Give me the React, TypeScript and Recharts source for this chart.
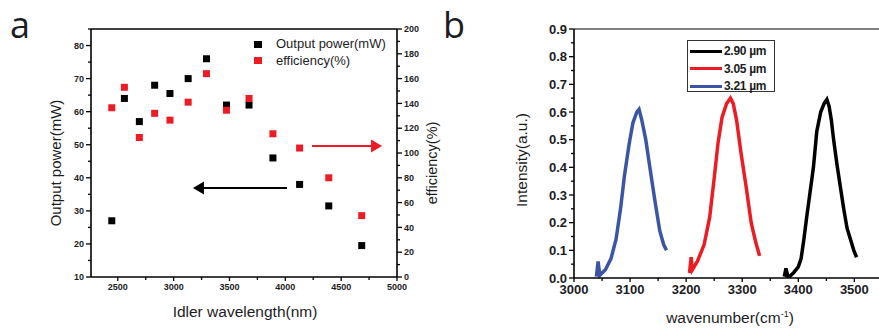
import React from 'react';
import {
  ScatterChart,
  Scatter,
  LineChart,
  Line,
  XAxis,
  YAxis,
  ReferenceLine,
  ReferenceDot,
} from 'recharts';

// ---------- Panel a data ----------
const wavelengthNm = [2446, 2559, 2693, 2830, 2967, 3130, 3294, 3473, 3675, 3889, 4128, 4389, 4684];
const outputPowerMw = [27, 64, 57, 68, 65.5, 70, 76, 62, 62, 46, 38, 31.5, 19.5];
const efficiencyPct = [136.5, 153, 112.5, 132, 126.5, 141, 164, 134.5, 144, 115.5, 104, 80, 49.5];

const aXTicks = [2500, 2750, 3000, 3250, 3500, 3750, 4000, 4250, 4500, 4750, 5000];
const aXMajor = [2500, 3000, 3500, 4000, 4500, 5000];
const aLeftTicks = [10, 15, 20, 25, 30, 35, 40, 45, 50, 55, 60, 65, 70, 75, 80, 85];
const aLeftMajor = [10, 20, 30, 40, 50, 60, 70, 80];
const aRightTicks = [0, 10, 20, 30, 40, 50, 60, 70, 80, 90, 100, 110, 120, 130, 140, 150, 160, 170, 180, 190, 200];
const aRightMajor = [0, 20, 40, 60, 80, 100, 120, 140, 160, 180, 200];

// arrows (annotation): [xFrom, xTipTo, y]
const blackArrow = [4015, 3173, 36.9];
const redArrow = [4239, 4866, 105.6];

// ---------- Panel b data ----------
const blueWn = [3040, 3043, 3046, 3056, 3066, 3075, 3083, 3090, 3098, 3105, 3112, 3116, 3121, 3128, 3136, 3145, 3153, 3160, 3165];
const blueI = [0.005, 0.06, 0.01, 0.03, 0.07, 0.14, 0.25, 0.37, 0.48, 0.56, 0.6, 0.61, 0.57, 0.5, 0.39, 0.27, 0.17, 0.12, 0.1];
const redWn = [3206, 3209, 3211, 3220, 3232, 3242, 3250, 3257, 3264, 3272, 3279, 3284, 3290, 3298, 3307, 3316, 3324, 3331];
const redI = [0.018, 0.075, 0.03, 0.06, 0.12, 0.22, 0.36, 0.49, 0.58, 0.63, 0.65, 0.63, 0.57, 0.45, 0.33, 0.2, 0.13, 0.08];
const blackWn = [3375, 3378, 3382, 3392, 3400, 3405, 3410, 3415, 3421, 3427, 3433, 3440, 3446, 3451, 3455, 3459, 3463, 3469, 3475, 3481, 3487, 3493, 3499, 3504];
const blackI = [0.005, 0.035, 0.0, 0.02, 0.04, 0.07, 0.14, 0.22, 0.31, 0.4, 0.53, 0.6, 0.63, 0.645, 0.62, 0.57, 0.5, 0.41, 0.33, 0.25, 0.18, 0.14, 0.1, 0.075];

const bXTicks = [3000, 3050, 3100, 3150, 3200, 3250, 3300, 3350, 3400, 3450, 3500, 3550];
const bXMajor = [3000, 3100, 3200, 3300, 3400, 3500];
const bYTicks = [0, 0.05, 0.1, 0.15, 0.2, 0.25, 0.3, 0.35, 0.4, 0.45, 0.5, 0.55, 0.6, 0.65, 0.7, 0.75, 0.8, 0.85, 0.9];
const bYMajor = [0, 0.1, 0.2, 0.3, 0.4, 0.5, 0.6, 0.7, 0.8, 0.9];

const bSeries = [
  { name: '2.90 µm', color: '#000000', wn: blackWn, inten: blackI },
  { name: '3.05 µm', color: '#ed1c24', wn: redWn, inten: redI },
  { name: '3.21 µm', color: '#3a55a5', wn: blueWn, inten: blueI },
];

const RED = '#ed1c24';
const FONT = '"Liberation Sans", Arial, sans-serif';
const TXT = '#1c1c24';

const powerData = wavelengthNm.map((w, i) => ({ w, v: outputPowerMw[i] }));
const effData = wavelengthNm.map((w, i) => ({ w, v: efficiencyPct[i] }));

type TickOpts = { major: number; minor: number; gap: number; fontSize: number; fmt: (v: number) => string };

function makeTick(orient: 'left' | 'right' | 'bottom', majors: number[], o: TickOpts) {
  return (p: any) => {
    const v = p.payload.value;
    const isMaj = majors.some((m) => Math.abs(m - v) < 1e-9);
    const len = isMaj ? o.major : o.minor;
    const x = p.x;
    const y = p.y;
    const textProps = { fontSize: o.fontSize, fontFamily: FONT, fontWeight: 700, fill: TXT } as any;
    if (orient === 'left') {
      return (
        <g>
          <line x1={x} x2={x - len} y1={y} y2={y} stroke="#000" strokeWidth={1.3} />
          {isMaj && (
            <text x={x - o.major - o.gap} y={y} dy="0.35em" textAnchor="end" {...textProps}>
              {o.fmt(v)}
            </text>
          )}
        </g>
      );
    }
    if (orient === 'right') {
      return (
        <g>
          <line x1={x} x2={x + len} y1={y} y2={y} stroke="#000" strokeWidth={1.3} />
          {isMaj && (
            <text x={x + o.major + o.gap} y={y} dy="0.35em" textAnchor="start" {...textProps}>
              {o.fmt(v)}
            </text>
          )}
        </g>
      );
    }
    return (
      <g>
        <line x1={x} x2={x} y1={y} y2={y + len} stroke="#000" strokeWidth={1.3} />
        {isMaj && (
          <text x={x} y={y + o.major + o.gap} dy="0.8em" textAnchor="middle" {...textProps}>
            {o.fmt(v)}
          </text>
        )}
      </g>
    );
  };
}

const sq = (color: string) => (p: any) => (
  <rect x={p.cx - 3.5} y={p.cy - 3.5} width={7} height={7} fill={color} />
);

const leftHead = (p: any) => (
  <path d={`M${p.cx},${p.cy} L${p.cx + 11},${p.cy - 6.5} L${p.cx + 11},${p.cy + 6.5} Z`} fill="#000" />
);
const rightHead = (p: any) => (
  <path d={`M${p.cx},${p.cy} L${p.cx - 11},${p.cy - 6.5} L${p.cx - 11},${p.cy + 6.5} Z`} fill={RED} />
);

const abs = (style: React.CSSProperties): React.CSSProperties => ({ position: 'absolute', whiteSpace: 'nowrap', ...style });

export default function App() {
  return (
    <div
      style={{
        position: 'fixed',
        left: 0,
        top: 0,
        width: 879,
        height: 330,
        overflow: 'hidden',
        background: '#fff',
        fontFamily: FONT,
        color: TXT,
      }}
    >
      {/* Panel a */}
      <div style={abs({ left: 0, top: 0 })}>
        <ScatterChart width={460} height={330} margin={{ top: 29, left: 51, right: 23, bottom: 23 }}>
          <XAxis
            type="number"
            dataKey="w"
            domain={[2260, 5000]}
            ticks={aXTicks}
            interval={0}
            allowDataOverflow
            height={30}
            tickSize={0}
            tickMargin={0}
            tickLine={false}
            axisLine={{ stroke: '#000', strokeWidth: 1.6 }}
            tick={makeTick('bottom', aXMajor, { major: 4, minor: 3, gap: 2, fontSize: 9, fmt: (v) => String(v) })}
          />
          <YAxis
            yAxisId="left"
            type="number"
            dataKey="v"
            domain={[10, 85]}
            ticks={aLeftTicks}
            interval={0}
            allowDataOverflow
            width={40}
            tickSize={0}
            tickMargin={0}
            tickLine={false}
            axisLine={{ stroke: '#000', strokeWidth: 1.6 }}
            tick={makeTick('left', aLeftMajor, { major: 5, minor: 3, gap: 2, fontSize: 9, fmt: (v) => String(v) })}
          />
          <YAxis
            yAxisId="right"
            orientation="right"
            type="number"
            dataKey="v"
            domain={[0, 200]}
            ticks={aRightTicks}
            interval={0}
            allowDataOverflow
            width={40}
            tickSize={0}
            tickMargin={0}
            tickLine={false}
            axisLine={{ stroke: '#000', strokeWidth: 1.6 }}
            tick={makeTick('right', aRightMajor, { major: 5, minor: 3, gap: 2, fontSize: 9, fmt: (v) => String(v) })}
          />
          <ReferenceLine yAxisId="left" y={85} stroke="#000" strokeWidth={1.6} />
          <Scatter yAxisId="left" name="Output power(mW)" data={powerData} shape={sq('#000')} isAnimationActive={false} />
          <Scatter yAxisId="right" name="efficiency(%)" data={effData} shape={sq(RED)} isAnimationActive={false} />
          <ReferenceLine
            yAxisId="left"
            segment={[
              { x: blackArrow[0], y: blackArrow[2] },
              { x: blackArrow[1] + 40, y: blackArrow[2] },
            ]}
            stroke="#000"
            strokeWidth={2}
          />
          <ReferenceDot yAxisId="left" x={blackArrow[1]} y={blackArrow[2]} shape={leftHead} />
          <ReferenceLine
            yAxisId="right"
            segment={[
              { x: redArrow[0], y: redArrow[2] },
              { x: redArrow[1] - 40, y: redArrow[2] },
            ]}
            stroke={RED}
            strokeWidth={2}
          />
          <ReferenceDot yAxisId="right" x={redArrow[1]} y={redArrow[2]} shape={rightHead} />
        </ScatterChart>
      </div>

      {/* Panel a legend */}
      <div style={abs({ left: 254, top: 36, fontSize: 13, lineHeight: '16.5px' })}>
        <div style={{ display: 'flex', alignItems: 'center' }}>
          <span style={{ display: 'inline-block', width: 8, height: 7, background: '#000', marginRight: 14 }} />
          <span>Output power(mW)</span>
        </div>
        <div style={{ display: 'flex', alignItems: 'center' }}>
          <span style={{ display: 'inline-block', width: 8, height: 7, background: RED, marginRight: 14 }} />
          <span>efficiency(%)</span>
        </div>
      </div>

      {/* Panel b */}
      <div style={abs({ left: 470, top: 0 })}>
        <LineChart width={430} height={330} margin={{ top: 29, left: 54, right: 12, bottom: 22 }}>
          <XAxis
            type="number"
            dataKey="wn"
            domain={[3000, 3560]}
            ticks={bXTicks}
            interval={0}
            allowDataOverflow
            height={30}
            tickSize={0}
            tickMargin={0}
            tickLine={false}
            axisLine={{ stroke: '#000', strokeWidth: 1.6 }}
            tick={makeTick('bottom', bXMajor, { major: 4, minor: 3, gap: 2, fontSize: 13, fmt: (v) => String(v) })}
          />
          <YAxis
            type="number"
            domain={[0, 0.9]}
            ticks={bYTicks}
            interval={0}
            allowDataOverflow
            width={50}
            tickSize={0}
            tickMargin={0}
            tickLine={false}
            axisLine={{ stroke: '#000', strokeWidth: 1.6 }}
            tick={makeTick('left', bYMajor, { major: 5, minor: 3, gap: 2, fontSize: 13, fmt: (v) => v.toFixed(1) })}
          />
          <ReferenceLine y={0.9} stroke="#555" strokeWidth={1.6} />
          {bSeries.map((s) => (
            <Line
              key={s.name}
              name={s.name}
              data={s.wn.map((w, i) => ({ wn: w, i: s.inten[i] }))}
              dataKey="i"
              stroke={s.color}
              strokeWidth={3.5}
              dot={false}
              type="linear"
              isAnimationActive={false}
            />
          ))}
        </LineChart>
      </div>

      {/* Panel b legend */}
      <div
        style={abs({
          left: 687,
          top: 40,
          width: 86,
          height: 50,
          border: '1.5px solid #333',
          background: '#fff',
          fontSize: 12,
          fontWeight: 700,
        })}
      >
        {bSeries.map((s, k) => (
          <div key={s.name} style={{ position: 'absolute', left: 2, top: 3 + k * 17.5, display: 'flex', alignItems: 'center', height: 14 }}>
            <span style={{ display: 'inline-block', width: 32, height: 3, background: s.color, marginRight: 2 }} />
            <span style={{ letterSpacing: -0.3 }}>{s.name}</span>
          </div>
        ))}
      </div>

      {/* Axis titles */}
      <div style={abs({ left: 55, top: 163, fontSize: 15, transform: 'translate(-50%, -50%) rotate(-90deg)' })}>Output power(mW)</div>
      <div style={abs({ left: 432, top: 163, fontSize: 14.5, transform: 'translate(-50%, -50%) rotate(-90deg)' })}>efficiency(%)</div>
      <div style={abs({ left: 245, top: 312, fontSize: 15.5, transform: 'translate(-50%, -50%)' })}>Idler wavelength(nm)</div>
      <div style={abs({ left: 522, top: 160, fontSize: 15.5, transform: 'translate(-50%, -50%) rotate(-90deg)' })}>Intensity(a.u.)</div>
      <div style={abs({ left: 730, top: 318, fontSize: 15.5, transform: 'translate(-50%, -50%)' })}>
        wavenumber(cm<sup style={{ fontSize: 9 }}>-1</sup>)
      </div>

      {/* Panel letters */}
      <div style={abs({ left: 10, top: 0, fontSize: 36, fontFamily: '"Open Sans", sans-serif', lineHeight: 'normal' })}>a</div>
      <div style={abs({ left: 443, top: 0, fontSize: 36, fontFamily: '"Open Sans", sans-serif', lineHeight: 'normal' })}>b</div>
    </div>
  );
}
